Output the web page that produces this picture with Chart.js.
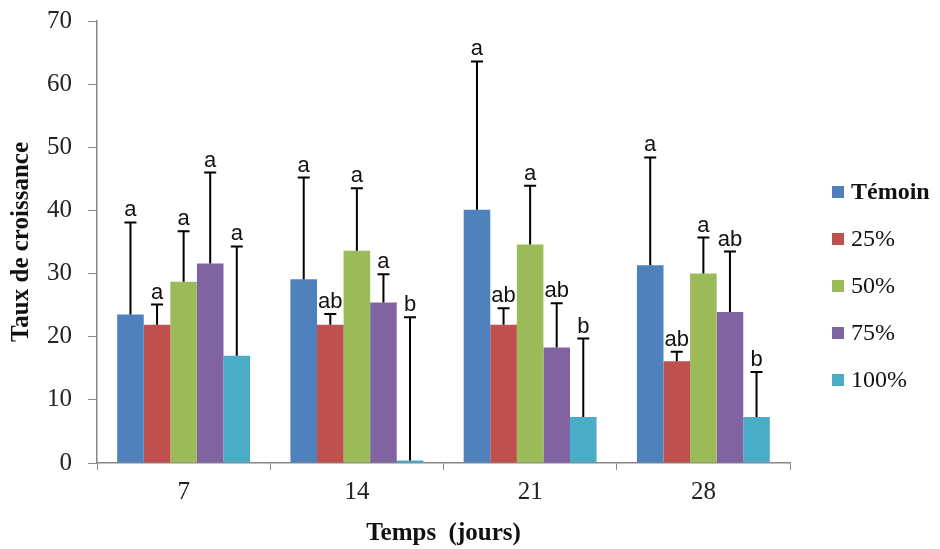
<!DOCTYPE html>
<html>
<head>
<meta charset="utf-8">
<script src="https://cdn.jsdelivr.net/npm/chart.js@4/dist/chart.umd.min.js"></script>
<style>
  html, body { margin: 0; padding: 0; background: #ffffff; }
  #wrap { width: 940px; height: 549px; }
</style>
</head>
<body>
<div id="wrap"><canvas id="myChart"></canvas></div>
<script>
"use strict";

// data
var days = ['7', '14', '21', '28'];
var series_names = ['Témoin', '25%', '50%', '75%', '100%'];
var series_colors = ['#4F81BD', '#C0504D', '#9BBB59', '#8064A2', '#4BACC6'];

var temoin = [23.5, 29.1, 40.1, 31.3];
var p25 = [21.9, 21.9, 21.9, 16.1];
var p50 = [28.7, 33.6, 34.6, 30.0];
var p75 = [31.6, 25.4, 18.3, 23.9];
var p100 = [17.0, 0.4, 7.3, 7.3];

// upper error (standard deviation)
var sd_temoin = [14.6, 16.1, 23.5, 17.1];
var sd_p25 = [3.2, 1.7, 2.6, 1.5];
var sd_p50 = [8.0, 9.9, 9.3, 5.7];
var sd_p75 = [14.4, 4.5, 7.0, 9.6];
var sd_p100 = [17.3, 22.7, 12.4, 7.1];

// letters of the statistical groups
var let_temoin = ['a', 'a', 'a', 'a'];
var let_p25 = ['a', 'ab', 'ab', 'ab'];
var let_p50 = ['a', 'a', 'a', 'a'];
var let_p75 = ['a', 'a', 'ab', 'ab'];
var let_p100 = ['a', 'b', 'b', 'b'];

var y_ticks = [0, 10, 20, 30, 40, 50, 60, 70];

var values = [temoin, p25, p50, p75, p100];
var errors = [sd_temoin, sd_p25, sd_p50, sd_p75, sd_p100];
var letters = [let_temoin, let_p25, let_p50, let_p75, let_p100];

var datasets = [];
for (var i = 0; i < series_names.length; i++) {
    datasets.push({
        label: series_names[i],
        data: values[i],
        backgroundColor: series_colors[i],
        borderWidth: 0,
        categoryPercentage: 0.767,
        barPercentage: 1.0
    });
}

var serif = "'Liberation Serif', 'Times New Roman', serif";

// error bars (upward only) and letters on top
var errorBars = {
    id: 'errorBars',
    afterDatasetsDraw: function(chart) {
        var ctx = chart.ctx;
        var yScale = chart.scales.y;
        ctx.save();
        ctx.strokeStyle = '#000000';
        ctx.lineWidth = 2;
        for (var i = 0; i < chart.data.datasets.length; i++) {
            var meta = chart.getDatasetMeta(i);
            for (var j = 0; j < meta.data.length; j++) {
                var bar = meta.data[j];
                var top = values[i][j] + errors[i][j];
                var yTop = yScale.getPixelForValue(top);
                var yBar = yScale.getPixelForValue(values[i][j]);
                ctx.beginPath();
                ctx.moveTo(bar.x, yBar);
                ctx.lineTo(bar.x, yTop);
                ctx.moveTo(bar.x - 6, yTop);
                ctx.lineTo(bar.x + 6, yTop);
                ctx.stroke();
                ctx.fillStyle = '#111111';
                ctx.font = "22px 'Liberation Sans', Arial, sans-serif";
                ctx.textAlign = 'center';
                ctx.textBaseline = 'bottom';
                ctx.fillText(letters[i][j], bar.x, yTop - 1);
            }
        }
        ctx.restore();
    }
};

// legend drawn at the right, like the original
var sideLegend = {
    id: 'sideLegend',
    afterDraw: function(chart) {
        var ctx = chart.ctx;
        ctx.save();
        ctx.textAlign = 'left';
        ctx.textBaseline = 'middle';
        for (var i = 0; i < series_names.length; i++) {
            var y = 192 + i * 47;
            ctx.fillStyle = series_colors[i];
            ctx.fillRect(832, y - 6, 12, 12);
            ctx.fillStyle = '#111111';
            // first entry is in bold in the original
            ctx.font = (i == 0 ? 'bold ' : '') + '24px ' + serif;
            ctx.fillText(series_names[i], 851, y + 1);
        }
        ctx.restore();
    }
};

var ctx = document.getElementById('myChart');
var myChart = new Chart(ctx, {
    type: 'bar',
    data: {
        labels: days,
        datasets: datasets
    },
    plugins: [errorBars, sideLegend],
    options: {
        responsive: true,
        maintainAspectRatio: false,
        animation: false,
        layout: { padding: { top: 14, right: 150, left: 0, bottom: 0 } },
        plugins: {
            legend: { display: false },
            tooltip: { enabled: false }
        },
        scales: {
            x: {
                afterFit: function(scale) { scale.height = 86; },
                grid: {
                    display: true,
                    drawOnChartArea: false,
                    drawTicks: true,
                    tickLength: 7,
                    color: '#868686',
                    offset: true
                },
                border: { color: '#868686', width: 1.5 },
                ticks: {
                    color: '#222222',
                    font: { family: serif, size: 25 },
                    padding: 7
                },
                title: {
                    display: true,
                    text: 'Temps  (jours)',
                    color: '#111111',
                    font: { family: serif, size: 25, weight: 'bold' },
                    padding: { top: 0, bottom: 0 }
                }
            },
            y: {
                min: 0,
                max: 70,
                afterFit: function(scale) { scale.width = 97; },
                afterBuildTicks: function(scale) {
                    scale.ticks = y_ticks.map(function(v) { return { value: v }; });
                },
                grid: {
                    display: true,
                    drawOnChartArea: false,
                    drawTicks: true,
                    tickLength: 9,
                    color: '#868686'
                },
                border: { color: '#868686', width: 1.5 },
                ticks: {
                    color: '#222222',
                    // small line height so the top label does not push the plot down
                    font: { family: serif, size: 25, lineHeight: 0.4 },
                    padding: 16
                },
                title: {
                    display: true,
                    text: 'Taux de croissance',
                    color: '#111111',
                    font: { family: serif, size: 25, weight: 'bold' },
                    padding: { top: 7, bottom: 0 }
                }
            }
        }
    }
});
</script>
</body>
</html>
